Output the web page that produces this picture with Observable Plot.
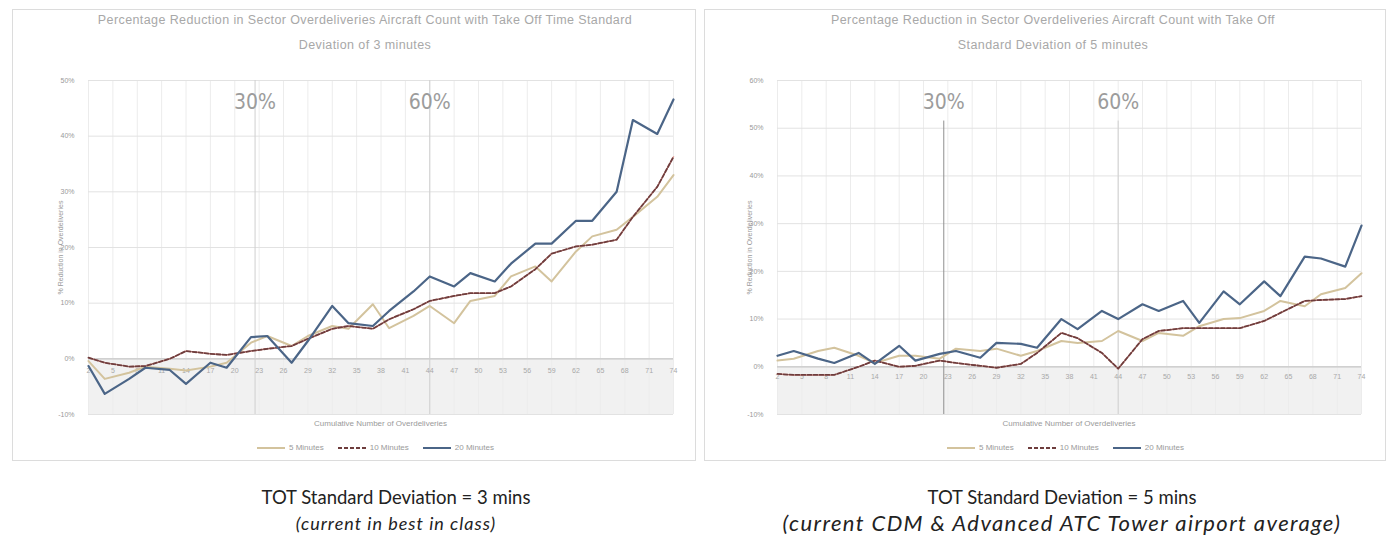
<!DOCTYPE html>
<html><head><meta charset="utf-8">
<script src="https://cdn.jsdelivr.net/npm/d3@7"></script>
<script src="https://cdn.jsdelivr.net/npm/@observablehq/plot@0.6"></script>
<style>
body{margin:0;background:#fff;width:1395px;height:547px;position:relative;overflow:hidden;font-family:Lato,"Open Sans",sans-serif}
.panel{position:absolute;top:9px;height:450px;border:1px solid #dcdcdc;background:#fff}
.abs{position:absolute}
.ttl{position:absolute;font-family:"Liberation Sans",sans-serif;font-size:12.5px;letter-spacing:0.4px;color:#a8a8a8;text-align:center;line-height:25px;white-space:nowrap}
.xt{position:absolute;font-family:"Liberation Sans",sans-serif;font-size:8px;color:#9a9a9a;text-align:center;white-space:nowrap}
.leg{position:absolute;font-family:"Liberation Sans",sans-serif;font-size:8px;color:#9a9a9a;white-space:nowrap;display:flex;gap:14px;align-items:center}
.leg span{display:inline-flex;align-items:center;gap:4px}
.cap{position:absolute;text-align:center;color:#222;font-size:18.5px;line-height:26px;white-space:nowrap}
</style></head><body>
<div class="panel" style="left:12px;width:682px"></div>
<div class="panel" style="left:704px;width:680px"></div>
<div id="c1" class="abs" style="left:15px;top:60px"></div>
<div id="c2" class="abs" style="left:707px;top:60px"></div>
<div class="ttl" style="left:15px;width:700px;top:8px">Percentage Reduction in Sector Overdeliveries Aircraft Count with Take Off Time Standard<br>Deviation of 3 minutes</div>
<div class="ttl" style="left:703px;width:700px;top:8px">Percentage Reduction in Sector Overdeliveries Aircraft Count with Take Off<br>Standard Deviation of 5 minutes</div>
<div class="xt" style="left:88px;width:585px;top:419px">Cumulative Number of Overdeliveries</div>
<div class="xt" style="left:777px;width:584px;top:419px">Cumulative Number of Overdeliveries</div>
<div id="l1" class="leg" style="left:257px;top:443px"></div>
<div id="l2" class="leg" style="left:947px;top:443px"></div>
<div class="cap" style="left:196px;width:400px;top:484px">TOT Standard Deviation = 3 mins<br><i style="font-size:18px;letter-spacing:1px">(current in best in class)</i></div>
<div class="cap" style="left:762px;width:600px;top:484px">TOT Standard Deviation = 5 mins<br><i style="font-size:22px;letter-spacing:1.4px">(current CDM &amp; Advanced ATC Tower airport average)</i></div>
<script>
// x positions of the plotted points (cumulative number)
const xValues = [2,4,7,9,12,14,17,19,22,24,27,29,32,34,37,39,42,44,47,49,52,54,57,59,62,64,67,69,72,74];
const xTicks = [2,5,8,11,14,17,20,23,26,29,32,35,38,41,44,47,50,53,56,59,62,65,68,71,74];
const seriesNames = ["5 Minutes","10 Minutes","20 Minutes"];

// Left chart (SD = 3 minutes), percentage values
const leftTan  = [-0.4,-3.6,-2.5,-1.4,-1.8,-2.1,-1.4,-0.7,2.9,4.1,2.3,4.1,5.9,5.4,9.8,5.5,7.7,9.5,6.4,10.4,11.3,14.8,16.6,13.9,19.3,22.0,23.2,25.5,29.1,33.0];
const leftDash = [0.2,-0.7,-1.4,-1.3,0.0,1.4,0.9,0.7,1.4,1.8,2.3,3.6,5.4,5.9,5.4,7.1,8.9,10.4,11.3,11.8,11.8,13.0,16.1,18.9,20.2,20.5,21.4,25.5,30.9,36.3];
const leftBlue = [-1.3,-6.3,-3.6,-1.6,-2.0,-4.5,-0.7,-1.6,3.9,4.1,-0.7,3.2,9.5,6.4,5.9,8.6,12.1,14.8,13.0,15.4,13.9,17.1,20.7,20.7,24.8,24.8,30.0,42.9,40.4,46.6];
const leftYTicks = [-10,0,10,20,30,40,50];

// Right chart (SD = 5 minutes)
const rightTan  = [1.3,1.7,3.3,4.0,2.3,0.8,2.3,2.3,1.7,3.8,3.3,3.8,2.3,3.3,5.4,5.0,5.4,7.5,5.4,7.1,6.5,8.5,10.0,10.2,11.7,13.8,12.7,15.2,16.5,19.6];
const rightDash = [-1.5,-1.7,-1.7,-1.7,0.0,1.3,0.0,0.2,1.3,0.8,0.2,-0.2,0.6,2.9,7.1,6.0,2.9,-0.4,5.8,7.5,8.1,8.1,8.1,8.1,9.6,11.3,13.8,14.0,14.2,14.8];
const rightBlue = [2.3,3.3,1.7,0.8,2.9,0.6,4.4,1.3,2.7,3.3,1.9,5.0,4.8,4.0,10.0,7.9,11.7,10.0,13.1,11.7,13.8,9.2,15.8,13.1,17.9,14.8,23.1,22.7,21.0,29.6];
const rightYTicks = [-10,0,10,20,30,40,50,60];

// Annotation thresholds
const thresholdLabels = ["30%","60%"];
const thresholdX = [22.5,44];

const colors = {tan:"#d3c39d", dash:"#6e3d3d", blue:"#4b6587"};

function chart(tan, dash, blue, yTicks, ml, mr, rightStyle) {
  const rows = [];
  xValues.forEach((x,i)=>{
    rows.push({x, v: tan[i], s:"tan"});
    rows.push({x, v: dash[i], s:"dash"});
    rows.push({x, v: blue[i], s:"blue"});
  });
  const yMin = yTicks[0], yMax = yTicks[yTicks.length-1];
  const thr = thresholdX.map((x,i)=>({x, label: thresholdLabels[i], i}));
  return Plot.plot({
    width: 675, height: 400,
    marginLeft: ml, marginRight: mr, marginTop: 20, marginBottom: 46,
    style: {fontFamily: "Liberation Sans, sans-serif", background: "transparent"},
    x: {domain: [xValues[0], xValues[xValues.length-1]], axis: null},
    y: {domain: [yMin, yMax], ticks: yTicks, tickFormat: d => d + "%", tickSize: 0, tickPadding: 14,
        label: "% Reduction in Overdeliveries", labelAnchor: "center", labelOffset: 30, labelArrow: "none"},
    marks: [
      Plot.rect([0], {y1: yMin, y2: 0, fill: "#f1f1f1"}),
      Plot.ruleX(xTicks, {stroke: "#ececec", strokeWidth: 1}),
      Plot.ruleY(yTicks, {stroke: "#e2e2e2"}),
      Plot.ruleY([0], {stroke: "#c9c9c9", strokeWidth: 1.2}),
      Plot.ruleX(thr, {x: "x", y1: rightStyle ? yMax - 8.5 : yMin, y2: rightStyle ? yMin : yMax,
        stroke: d => rightStyle && d.i === 0 ? "#8f8f8f" : "#cfcfcf",
        strokeDasharray: d => rightStyle && d.i === 0 ? "3,2" : null, strokeWidth: 1}),
      Plot.text(thr, {x: "x", y: yMax, dy: 22, text: "label", fontSize: 21, fill: "#9c9c9c", fontFamily: "DejaVu Sans Condensed, sans-serif"}),
      Plot.text(xTicks, {x: d => d, y: 0, dy: rightStyle ? 10 : 12, text: d => String(d), fontSize: 7, fill: "#a8a8a8"}),
      Plot.line(rows.filter(d=>d.s==="tan"), {x:"x", y:"v", stroke: colors.tan, strokeWidth: 2}),
      Plot.line(rows.filter(d=>d.s==="dash"), {x:"x", y:"v", stroke: "#e9a9a0", strokeWidth: 1.5}),
      Plot.line(rows.filter(d=>d.s==="dash"), {x:"x", y:"v", stroke: colors.dash, strokeWidth: 1.8, strokeDasharray: "4,2"}),
      Plot.line(rows.filter(d=>d.s==="blue"), {x:"x", y:"v", stroke: colors.blue, strokeWidth: 2.2})
    ]
  });
}

const p1 = chart(leftTan, leftDash, leftBlue, leftYTicks, 73, 17, false);
const p2 = chart(rightTan, rightDash, rightBlue, rightYTicks, 70, 21, true);
p1.querySelectorAll("[aria-label='y-axis tick label'] text, [aria-label='y-axis label'] text").forEach(t=>{t.setAttribute("font-size","7");t.setAttribute("fill","#999");});
p2.querySelectorAll("[aria-label='y-axis tick label'] text, [aria-label='y-axis label'] text").forEach(t=>{t.setAttribute("font-size","7");t.setAttribute("fill","#999");});
document.getElementById("c1").appendChild(p1);
document.getElementById("c2").appendChild(p2);

function legend(el) {
  const styles = [
    {c: colors.tan, d: null},
    {c: colors.dash, d: "4,2"},
    {c: colors.blue, d: null}
  ];
  el.innerHTML = seriesNames.map((n,i)=>`<span><svg width="28" height="6"><line x1="0" y1="3" x2="28" y2="3" stroke="${styles[i].c}" stroke-width="2" ${styles[i].d ? `stroke-dasharray="${styles[i].d}"` : ""}/></svg>${n}</span>`).join("");
}
legend(document.getElementById("l1"));
legend(document.getElementById("l2"));
</script>
</body></html>
